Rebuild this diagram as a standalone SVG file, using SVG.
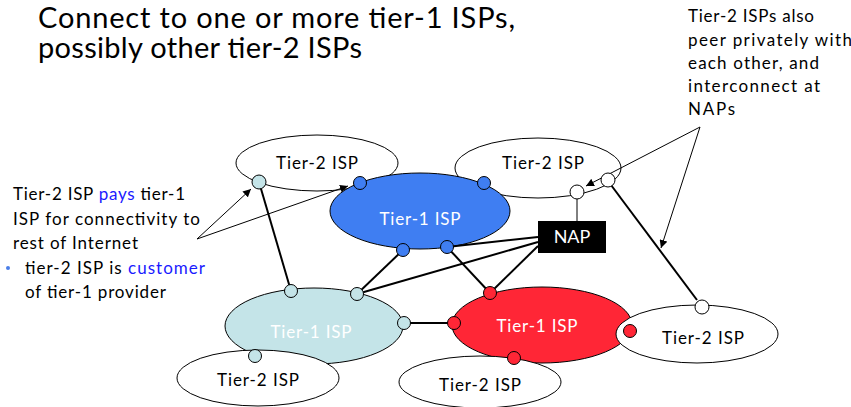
<svg xmlns="http://www.w3.org/2000/svg" width="851" height="407" viewBox="0 0 851 407">
<style>
text{font-family:Lato,"Liberation Sans",sans-serif;}
.t2{fill:#fff;stroke:#000;stroke-width:1}
.lbl{font-size:17px;fill:#000;text-anchor:middle}
.wl{font-size:17px;fill:#fff;text-anchor:middle}
.link{stroke:#000;stroke-width:2;fill:none}
.ann{stroke:#000;stroke-width:1;fill:none}
.p{stroke:#000;stroke-width:1}
.note{font-size:17px;fill:#000}
.blue{fill:#1a1aff}
</style>
<defs>
<marker id="ah" viewBox="0 0 10 10" refX="10" refY="5" markerWidth="8" markerHeight="8" markerUnits="userSpaceOnUse" orient="auto">
<path d="M0,0 L10,5 L0,10 z" fill="#000"/>
</marker>
</defs>
<rect width="851" height="407" fill="#fff"/>
<text x="38" y="28" font-size="29" textLength="477" fill="#000">Connect to one or more tier-1 ISPs,</text>
<text x="38" y="58" font-size="29" textLength="324" fill="#000">possibly other tier-2 ISPs</text>

<g id="t2-topleft"><ellipse class="t2" cx="317" cy="163" rx="81" ry="28"/><text class="lbl" x="317" y="169" textLength="82">Tier-2 ISP</text></g>
<g id="t2-topright"><ellipse class="t2" cx="538" cy="168" rx="83" ry="30"/><text class="lbl" x="543" y="169" textLength="82">Tier-2 ISP</text></g>
<g id="t1-blue"><ellipse cx="420" cy="211" rx="90" ry="38" fill="#3f7ef2" stroke="#000" stroke-width="1"/><text class="wl" x="420" y="225" textLength="81">Tier-1 ISP</text></g>
<g id="t1-lightblue"><ellipse cx="314" cy="326" rx="89" ry="38" fill="#c4e4e8" stroke="#000" stroke-width="1"/><text class="wl" x="311" y="338" textLength="81">Tier-1 ISP</text></g>
<g id="t1-red"><ellipse cx="542" cy="325" rx="90" ry="38" fill="#ff2636" stroke="#000" stroke-width="1"/><text class="wl" x="537" y="332" textLength="81">Tier-1 ISP</text></g>
<g id="t2-bottomleft"><ellipse class="t2" cx="258" cy="378" rx="81" ry="28"/><text class="lbl" x="258" y="386" textLength="82">Tier-2 ISP</text></g>
<g id="t2-bottommid"><ellipse class="t2" cx="480" cy="382" rx="81" ry="26"/><text class="lbl" x="480" y="391" textLength="82">Tier-2 ISP</text></g>
<g id="t2-right"><ellipse class="t2" cx="697" cy="334" rx="81" ry="29"/><text class="lbl" x="703" y="344" textLength="82">Tier-2 ISP</text></g>
<g id="nap"><rect x="538" y="221" width="68" height="32" fill="#000"/><text x="572" y="243" font-size="18" fill="#fff" text-anchor="middle">NAP</text></g>

<g id="connectors">
<line class="link" x1="259" y1="182" x2="291" y2="291"/>
<line class="link" x1="403" y1="250" x2="357" y2="294"/>
<line class="link" x1="447" y1="247" x2="490" y2="293"/>
<line class="link" x1="404" y1="323" x2="454" y2="323"/>
<line class="link" x1="538" y1="237" x2="447" y2="247"/>
<line class="link" x1="538" y1="242" x2="357" y2="294"/>
<line class="link" x1="538" y1="246" x2="490" y2="293"/>
<line class="link" x1="608" y1="181" x2="697" y2="300"/>
<line class="ann" x1="577" y1="192" x2="577" y2="221"/>
<line class="ann" x1="197" y1="239" x2="251" y2="189" marker-end="url(#ah)"/>
<line class="ann" x1="197" y1="239" x2="348" y2="186" marker-end="url(#ah)"/>
<line class="ann" x1="700" y1="127" x2="586" y2="186" marker-end="url(#ah)"/>
<line class="ann" x1="700" y1="127" x2="661" y2="248" marker-end="url(#ah)"/>
</g>

<g id="ports">
<circle class="p" cx="259" cy="182" r="7" fill="#c4e4e8"/>
<circle class="p" cx="360" cy="183" r="6.5" fill="#3f7ef2"/>
<circle class="p" cx="484" cy="183" r="6.5" fill="#3f7ef2"/>
<circle class="p" cx="403" cy="250" r="6.5" fill="#3f7ef2"/>
<circle class="p" cx="447" cy="247" r="6.5" fill="#3f7ef2"/>
<circle class="p" cx="577" cy="192" r="7" fill="#fff"/>
<circle class="p" cx="608" cy="180" r="7" fill="#fff"/>
<circle class="p" cx="291" cy="291" r="6.5" fill="#c4e4e8"/>
<circle class="p" cx="357" cy="294" r="6.5" fill="#c4e4e8"/>
<circle class="p" cx="404" cy="323" r="6.5" fill="#c4e4e8"/>
<circle class="p" cx="255" cy="356" r="6.5" fill="#c4e4e8"/>
<circle class="p" cx="490" cy="293" r="6.5" fill="#ff2636"/>
<circle class="p" cx="454" cy="323" r="6.5" fill="#ff2636"/>
<circle class="p" cx="514" cy="358" r="6.5" fill="#ff2636"/>
<circle class="p" cx="630" cy="331" r="6.5" fill="#ff2636"/>
<circle class="p" cx="702" cy="307" r="7" fill="#fff"/>
</g>

<g id="note-left">
<text class="note" x="13" y="200" textLength="172">Tier-2 ISP <tspan class="blue">pays</tspan> tier-1</text>
<text class="note" x="13" y="225" textLength="187">ISP for connectivity to</text>
<text class="note" x="13" y="249" textLength="125">rest of Internet</text>
<circle cx="8" cy="268" r="2" fill="#4a7ee8"/>
<text class="note" x="25" y="274" textLength="180">tier-2 ISP is <tspan class="blue">customer</tspan></text>
<text class="note" x="25" y="298" textLength="141">of tier-1 provider</text>
</g>
<g id="note-right">
<text class="note" x="688" y="22" textLength="126">Tier-2 ISPs also</text>
<text class="note" x="688" y="46" textLength="164">peer privately with</text>
<text class="note" x="688" y="69" textLength="131">each other, and</text>
<text class="note" x="688" y="92" textLength="132">interconnect at</text>
<text class="note" x="688" y="115" textLength="47">NAPs</text>
</g>
</svg>
